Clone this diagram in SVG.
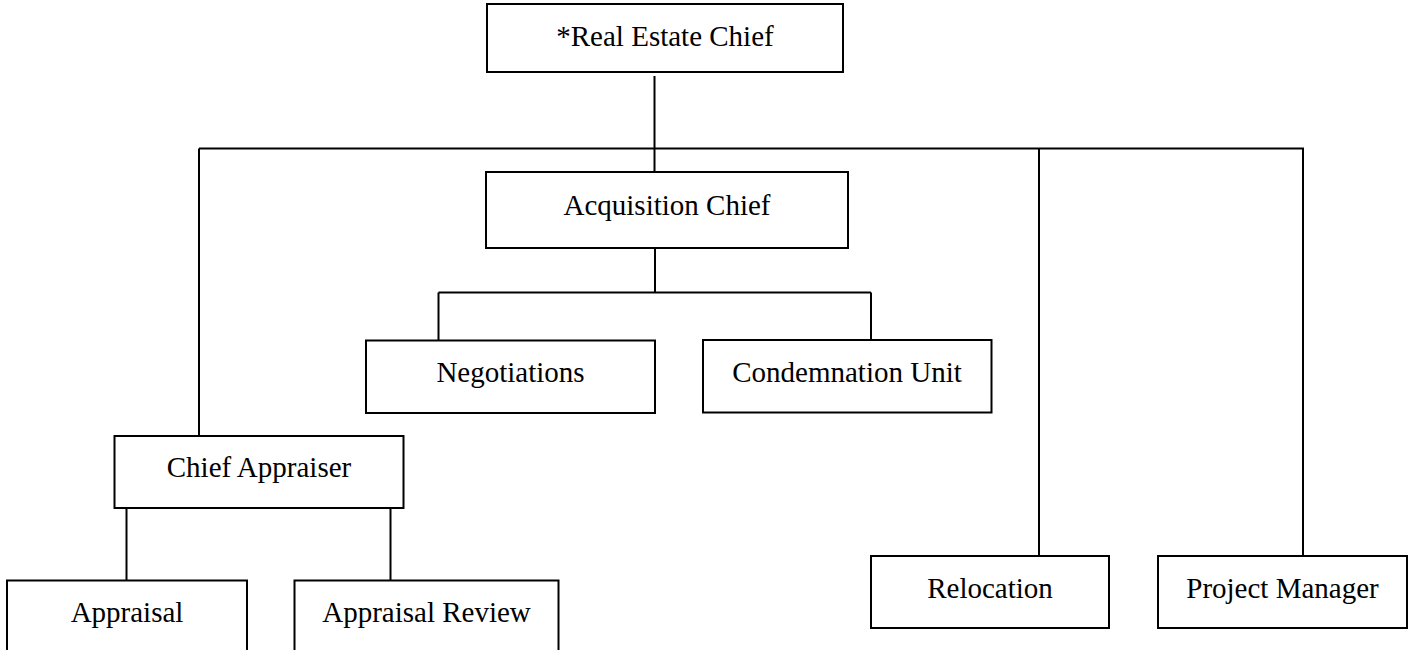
<svg xmlns="http://www.w3.org/2000/svg" width="1415" height="650" viewBox="0 0 1415 650">
<style>
.box{fill:#fff;stroke:#000;stroke-width:2}
.lbl{font-family:"Liberation Serif","Times New Roman",serif;font-size:29px;fill:#000;text-anchor:middle}
.conn{stroke:#000;stroke-width:2;fill:none}
</style>
<rect width="1415" height="650" fill="#fff"/>
<g id="connectors">
<line class="conn" x1="654.5" y1="76" x2="654.5" y2="172"/>
<line class="conn" x1="199" y1="148.5" x2="1304" y2="148.5"/>
<line class="conn" x1="199" y1="148.5" x2="199" y2="436"/>
<line class="conn" x1="1039" y1="148.5" x2="1039" y2="556"/>
<line class="conn" x1="1303" y1="148.5" x2="1303" y2="556"/>
<line class="conn" x1="655" y1="248" x2="655" y2="292.5"/>
<line class="conn" x1="438.5" y1="292.5" x2="871" y2="292.5"/>
<line class="conn" x1="438.5" y1="292.5" x2="438.5" y2="340"/>
<line class="conn" x1="871" y1="292.5" x2="871" y2="340"/>
<line class="conn" x1="126.5" y1="508" x2="126.5" y2="580"/>
<line class="conn" x1="390.5" y1="508" x2="390.5" y2="580"/>
</g>
<g id="real-estate-chief">
<rect class="box" x="487" y="4" width="356" height="68"/>
<text class="lbl" x="665" y="46">*Real Estate Chief</text>
</g>
<g id="acquisition-chief">
<rect class="box" x="486" y="172" width="362" height="76"/>
<text class="lbl" x="667" y="215">Acquisition Chief</text>
</g>
<g id="negotiations">
<rect class="box" x="366" y="340.5" width="289" height="72.5"/>
<text class="lbl" x="510.5" y="381.5">Negotiations</text>
</g>
<g id="condemnation-unit">
<rect class="box" x="703" y="340" width="288.5" height="72.5"/>
<text class="lbl" x="847" y="381.5">Condemnation Unit</text>
</g>
<g id="chief-appraiser">
<rect class="box" x="114.5" y="436" width="289" height="72"/>
<text class="lbl" x="259" y="477">Chief Appraiser</text>
</g>
<g id="appraisal">
<rect class="box" x="7" y="580.5" width="240" height="72"/>
<text class="lbl" x="127" y="622">Appraisal</text>
</g>
<g id="appraisal-review">
<rect class="box" x="294.5" y="580.5" width="264" height="72"/>
<text class="lbl" x="426.5" y="622">Appraisal Review</text>
</g>
<g id="relocation">
<rect class="box" x="871" y="556" width="238" height="72"/>
<text class="lbl" x="990" y="598">Relocation</text>
</g>
<g id="project-manager">
<rect class="box" x="1158" y="556" width="249" height="72"/>
<text class="lbl" x="1282.5" y="597.5">Project Manager</text>
</g>
</svg>
